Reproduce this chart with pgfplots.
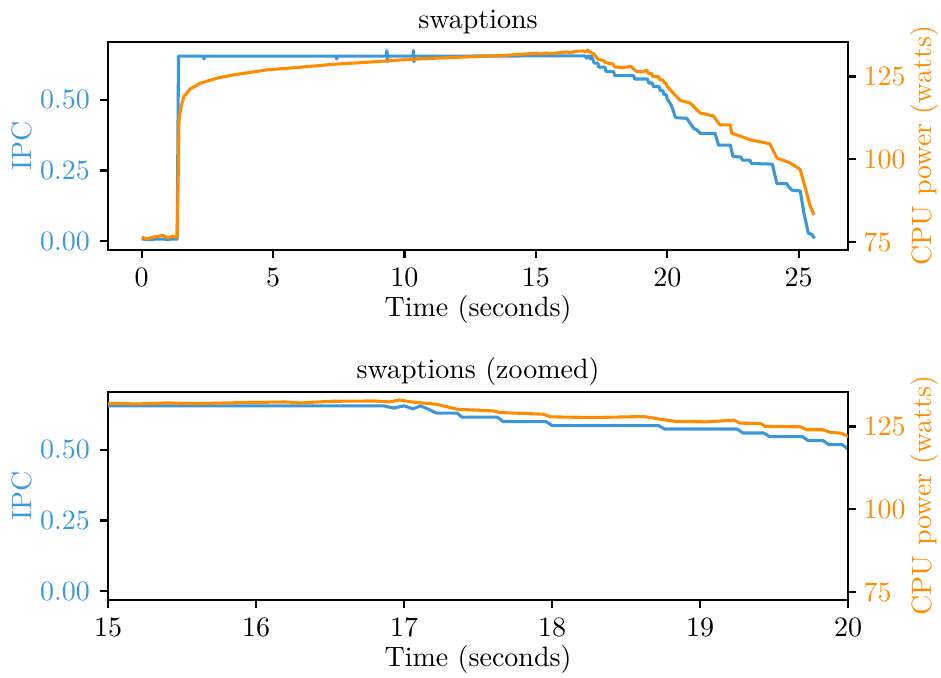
\documentclass[border=0pt]{standalone}
\usepackage{pgfplots}
\usepackage{pgfplotstable}
\pgfplotsset{compat=1.18}
\definecolor{ipcblue}{RGB}{58,152,216}
\definecolor{pworange}{RGB}{255,140,0}

\pgfplotstableread{
t ipc
0 0.008
0.3 0.006
0.6 0.008
1.0 0.007
1.35 0.008
1.40 0.655
2.34 0.655
2.37 0.645
2.40 0.655
7.39 0.655
7.42 0.645
7.45 0.655
9.31 0.655
9.33 0.675
9.35 0.635
9.37 0.655
10.32 0.655
10.34 0.675
10.36 0.635
10.38 0.655
16.86 0.656
16.93 0.648
17.0 0.656
17.06 0.645
17.11 0.656
17.16 0.645
17.22 0.630
17.36 0.630
17.39 0.616
17.63 0.616
17.67 0.600
17.96 0.600
18.00 0.586
18.72 0.586
18.76 0.574
19.25 0.574
19.29 0.560
19.43 0.560
19.47 0.547
19.69 0.547
19.73 0.533
19.83 0.533
19.87 0.519
19.96 0.519
20.0 0.503
20.1 0.49
20.2 0.47
20.3 0.44
20.36 0.437
20.74 0.435
20.85 0.42
21.0 0.40
21.13 0.394
21.25 0.382
21.82 0.382
21.95 0.340
22.4 0.340
22.5 0.300
22.8 0.298
22.86 0.287
23.15 0.287
23.2 0.275
24.0 0.273
24.17 0.204
24.55 0.204
24.6 0.195
24.74 0.181
25.06 0.178
25.2 0.10
25.37 0.028
25.5 0.025
25.6 0.01
}\ipcdata

\pgfplotstableread{
t pw
0 76.5
0.2 76.0
0.5 76.6
0.8 77.0
1.0 76.3
1.2 76.8
1.35 76.5
1.38 90
1.42 112
1.5 116
1.61 119.0
1.86 121.3
2.24 123.0
2.87 124.5
3.5 125.5
4.77 127.0
6.04 127.8
7.31 128.7
8.58 129.3
9.85 130.0
11.1 130.5
13.65 131.3
15.0 132.0
15.2 131.8
15.4 132.1
15.6 131.9
15.9 132.2
16.2 132.4
16.3 132.1
16.5 132.6
16.8 132.7
16.9 132.4
16.97 133.0
17.05 132.4
17.1 132.2
17.22 131.7
17.36 130.2
17.6 129.7
17.65 129.2
17.94 128.7
17.99 127.9
18.28 127.7
18.62 128.0
18.73 127.2
18.84 126.5
19.04 126.4
19.23 126.9
19.27 126.0
19.41 125.9
19.44 125.0
19.68 124.9
19.72 124.0
19.83 124.0
19.88 123.2
19.95 123.0
20.0 122.0
20.23 120.0
20.49 117.8
20.87 117.0
21.25 114.0
21.75 113.1
22.0 110.4
22.4 110.4
22.45 107.9
23.16 105.9
23.9 104.7
24.17 100.4
24.68 98.9
25.06 96.9
25.44 85.8
25.59 83.2
}\pwdata

\pgfplotsset{
  every axis title/.style={at={(rel axis cs:0.5,1)}, anchor=center, yshift=7.2pt},
  every axis/.append style={
    scale only axis, width=264.3pt, height=74.3pt,
    anchor=south west,
    axis line style={line width=0.8pt, -},
    tick style={line width=0.8pt, black},
    tick align=outside, major tick length=3pt,
    font=\normalsize,
  },
  every axis x label/.style={at={(rel axis cs:0.5,0)}, anchor=center, yshift=-21.4pt},
  ipcaxis/.style={
    ymin=-0.030, ymax=0.706, ytick={0,0.25,0.5},
    xtick pos=left, ytick pos=left,
    yticklabel style={color=ipcblue, /pgf/number format/.cd, fixed, fixed zerofill, precision=2},
    ylabel={IPC},
    every axis y label/.style={color=ipcblue, at={(rel axis cs:0,0.5)}, anchor=center, rotate=90, yshift=30.7pt},
    xlabel={Time (seconds)},
  },
  pwaxis/.style={
    ymin=72.7, ymax=135.5, ytick={75,100,125},
    axis y line*=right, axis x line=none,
    yticklabel style={color=pworange, xshift=-1pt},
    ylabel={CPU power (watts)},
    every axis y label/.style={color=pworange, at={(rel axis cs:1,0.5)}, anchor=center, rotate=90, yshift=-27.2pt},
  },
}

\begin{document}
\begin{tikzpicture}
\path[use as bounding box] (0,0) rectangle (336.1pt,242.1pt);
% top
\begin{axis}[at={(38.6pt,152.9pt)}, ipcaxis, xmin=-1.28, xmax=26.88, xtick={0,5,...,25}, title={swaptions}]
\addplot[ipcblue, line width=1.1pt, line join=round] table[x=t,y=ipc] {\ipcdata};
\end{axis}
\begin{axis}[at={(38.6pt,152.9pt)}, pwaxis, xmin=-1.28, xmax=26.88]
\addplot[pworange, line width=1.1pt, line join=round] table[x=t,y=pw] {\pwdata};
\end{axis}
% bottom
\begin{axis}[at={(38.6pt,27.9pt)}, ipcaxis, xmin=15, xmax=20, xtick={15,...,20}, title={swaptions (zoomed)}]
\addplot[ipcblue, line width=1.1pt, line join=round] table[x=t,y=ipc] {\ipcdata};
\end{axis}
\begin{axis}[at={(38.6pt,27.9pt)}, pwaxis, xmin=15, xmax=20]
\addplot[pworange, line width=1.1pt, line join=round] table[x=t,y=pw] {\pwdata};
\end{axis}
\end{tikzpicture}
\end{document}
